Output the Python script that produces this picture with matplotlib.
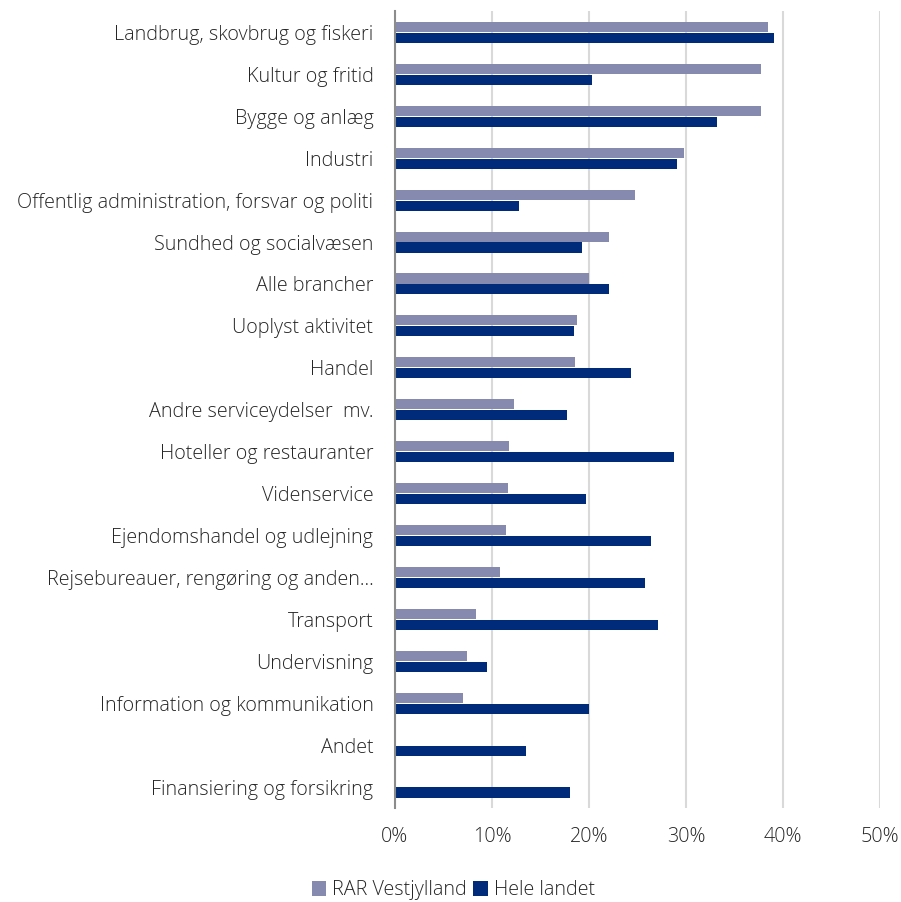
import numpy as np
import matplotlib
matplotlib.use("Agg")
import matplotlib.pyplot as plt
from matplotlib.ticker import PercentFormatter

plt.rcParams['font.family'] = ['Open Sans', 'DejaVu Sans']

# Data (andel i procent)
brancher = [
    "Landbrug, skovbrug og fiskeri",
    "Kultur og fritid",
    "Bygge og anlæg",
    "Industri",
    "Offentlig administration, forsvar og politi",
    "Sundhed og socialvæsen",
    "Alle brancher",
    "Uoplyst aktivitet",
    "Handel",
    "Andre serviceydelser  mv.",
    "Hoteller og restauranter",
    "Videnservice",
    "Ejendomshandel og udlejning",
    "Rejsebureauer, rengøring og anden…",
    "Transport",
    "Undervisning",
    "Information og kommunikation",
    "Andet",
    "Finansiering og forsikring",
]
rar_vestjylland = [38.5, 37.7, 37.7, 29.8, 24.7, 22.1, 20.0, 18.8, 18.6, 12.3,
                   11.75, 11.6, 11.4, 10.8, 8.4, 7.4, 7.0, 0.0, 0.0]
hele_landet = [39.1, 20.3, 33.2, 29.1, 12.8, 19.3, 22.1, 18.5, 24.3, 17.7,
               28.8, 19.7, 26.4, 25.8, 27.1, 9.5, 20.0, 13.5, 18.0]

farve_rar = "#868aaf"
farve_hele = "#002b7a"
tekst = "#262626"
fs = 14.2

fig = plt.figure(figsize=(9.01, 9.02), dpi=100)
ax = fig.add_axes([0.4384, 0.1042, 0.5383, 0.8831])

y = np.arange(len(brancher))
h = 0.24
ax.barh(y - h / 2 - 0.01, rar_vestjylland, height=h, color=farve_rar,
        label="RAR Vestjylland", zorder=3)
ax.barh(y + h / 2 + 0.01, hele_landet, height=h, color=farve_hele,
        label="Hele landet", zorder=3)

ax.set_ylim(len(brancher) - 0.5, -0.5)
ax.set_xlim(0, 50)
ax.set_yticks(y)
ax.set_yticklabels(brancher, fontsize=fs, color=tekst, fontweight="light")
ax.set_xticks(np.arange(0, 51, 10))
ax.xaxis.set_major_formatter(PercentFormatter(decimals=0))
ax.tick_params(axis="x", labelsize=fs, labelcolor=tekst, length=0, pad=14)
ax.tick_params(axis="y", length=0, pad=15.5)
for lbl in ax.get_xticklabels():
    lbl.set_fontweight("light")

ax.grid(axis="x", color="#d9d9d9", linewidth=1.5, zorder=0)
for s in ["top", "right", "bottom"]:
    ax.spines[s].set_visible(False)
ax.spines["left"].set_color("#8c8c8c")
ax.spines["left"].set_linewidth(1.5)
ax.spines["left"].set_zorder(4)

leg = fig.legend(loc="center", bbox_to_anchor=(0.503, 0.013), ncol=2,
                 frameon=False, fontsize=fs, handlelength=0.75,
                 handleheight=0.75, handletextpad=0.3, columnspacing=0.3)
for t in leg.get_texts():
    t.set_color(tekst)
    t.set_fontweight("light")

fig.savefig("out.png", dpi=100)
